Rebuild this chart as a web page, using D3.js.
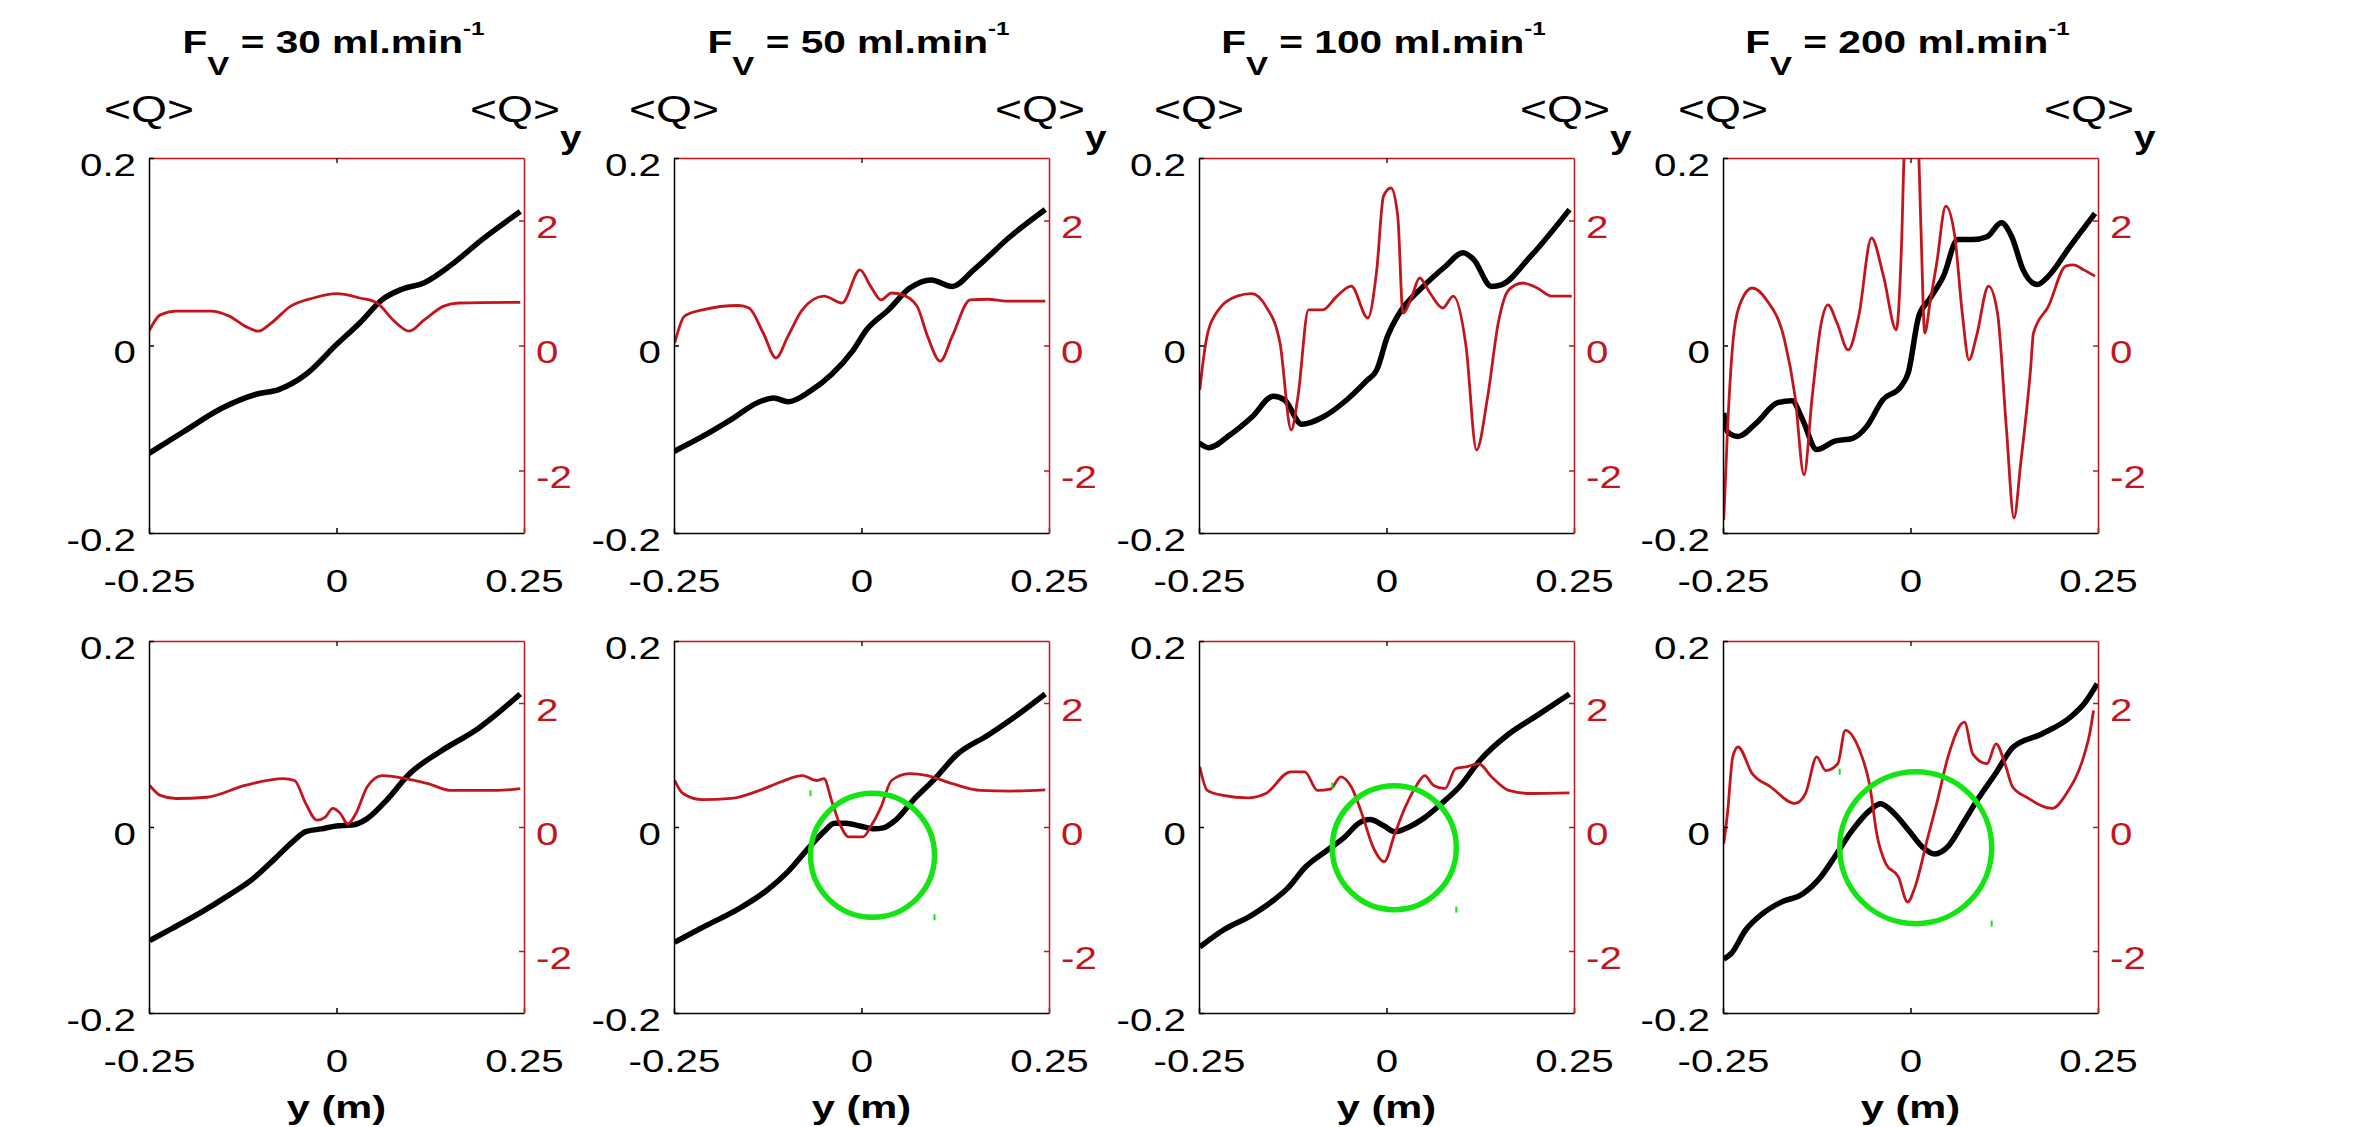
<!DOCTYPE html>
<html>
<head>
<meta charset="utf-8">
<script src="https://cdn.jsdelivr.net/npm/d3@7"></script>
<style>
  body { margin: 0; background: #fff; }
  svg text { font-family: "Liberation Sans", Arial, Helvetica, sans-serif; white-space: pre; }
</style>
</head>
<body>
<div id="container"></div>
<script>
// ---- data: [y (m), value] ----
const flowRates = [30, 50, 100, 200];
const xTicks = [-0.25, 0, 0.25];
const qTicks = [-0.2, 0, 0.2];
const qyTicks = [-2, 0, 2];

// row 1, <Q> (black) and <Q>_y (red)
const q30a = [[-0.25,-0.115],[-0.204,-0.092],[-0.153,-0.067],[-0.107,-0.052],[-0.077,-0.047],[-0.041,-0.031],[0,0.001],[0.031,0.024],[0.061,0.049],[0.087,0.06],[0.117,0.067],[0.153,0.086],[0.194,0.113],[0.245,0.143]];
const qy30a = [[-0.25,0.23],[-0.235,0.49],[-0.214,0.55],[-0.168,0.55],[-0.143,0.47],[-0.122,0.31],[-0.104,0.23],[-0.087,0.36],[-0.061,0.63],[-0.031,0.76],[0,0.83],[0.031,0.76],[0.054,0.68],[0.077,0.39],[0.097,0.23],[0.117,0.41],[0.143,0.63],[0.163,0.68],[0.245,0.69]];
const q50a = [[-0.25,-0.113],[-0.212,-0.097],[-0.174,-0.079],[-0.136,-0.06],[-0.117,-0.056],[-0.098,-0.06],[-0.069,-0.049],[-0.04,-0.031],[-0.012,-0.006],[0.007,0.017],[0.036,0.038],[0.064,0.061],[0.093,0.07],[0.121,0.063],[0.15,0.081],[0.198,0.116],[0.245,0.145]];
const qy50a = [[-0.249,0.04],[-0.236,0.47],[-0.212,0.57],[-0.164,0.64],[-0.15,0.6],[-0.131,0.2],[-0.114,-0.2],[-0.098,0.15],[-0.079,0.57],[-0.05,0.79],[-0.026,0.68],[-0.002,1.21],[0.012,0.95],[0.026,0.73],[0.04,0.84],[0.055,0.81],[0.074,0.63],[0.088,0.15],[0.105,-0.25],[0.121,0.15],[0.145,0.73],[0.169,0.74],[0.193,0.71],[0.245,0.71]];
const q100a = [[-0.25,-0.104],[-0.237,-0.109],[-0.208,-0.095],[-0.179,-0.076],[-0.151,-0.054],[-0.136,-0.058],[-0.113,-0.084],[-0.084,-0.076],[-0.056,-0.06],[-0.027,-0.038],[-0.013,-0.026],[0.001,0.009],[0.016,0.033],[0.049,0.063],[0.078,0.084],[0.102,0.099],[0.116,0.092],[0.14,0.063],[0.154,0.065],[0.192,0.095],[0.244,0.145]];
const qy100a = [[-0.249,-0.71],[-0.241,0.04],[-0.227,0.52],[-0.199,0.79],[-0.18,0.83],[-0.161,0.63],[-0.142,0.04],[-0.127,-1.35],[-0.118,-0.81],[-0.104,0.57],[-0.085,0.57],[-0.066,0.79],[-0.047,0.95],[-0.025,0.44],[-0.013,1.21],[-0.004,2.39],[0.006,2.52],[0.015,2.07],[0.022,0.52],[0.034,0.79],[0.044,1.08],[0.058,0.84],[0.075,0.6],[0.089,0.79],[0.106,-0.01],[0.12,-1.67],[0.135,-0.81],[0.149,0.36],[0.163,0.89],[0.182,1.0],[0.201,0.92],[0.22,0.79],[0.247,0.79]];
const q200a = [[-0.249,-0.072],[-0.244,-0.092],[-0.23,-0.097],[-0.206,-0.083],[-0.177,-0.061],[-0.158,-0.059],[-0.144,-0.079],[-0.125,-0.111],[-0.101,-0.102],[-0.077,-0.099],[-0.058,-0.086],[-0.037,-0.058],[-0.013,-0.044],[-0.003,-0.029],[0.011,0.031],[0.025,0.049],[0.044,0.074],[0.063,0.113],[0.083,0.113],[0.102,0.116],[0.121,0.131],[0.135,0.116],[0.15,0.081],[0.169,0.065],[0.184,0.074],[0.213,0.106],[0.246,0.141]];
const qy200a = [[-0.249,-2.79],[-0.244,-1.35],[-0.235,0.25],[-0.225,0.73],[-0.211,0.92],[-0.192,0.73],[-0.168,0.09],[-0.154,-0.81],[-0.142,-2.07],[-0.131,-0.81],[-0.119,0.36],[-0.11,0.65],[-0.098,0.36],[-0.083,-0.07],[-0.069,0.47],[-0.052,1.72],[-0.036,1.11],[-0.019,0.25],[-0.012,1.59],[-0.008,3.2],[0.002,4.2],[0.0105,3.2],[0.014,1.85],[0.019,0.2],[0.026,0.68],[0.035,1.32],[0.047,2.23],[0.059,1.75],[0.069,0.52],[0.078,-0.23],[0.088,0.15],[0.104,0.95],[0.116,0.52],[0.128,-1.35],[0.138,-2.76],[0.147,-1.88],[0.16,-0.39],[0.164,0.2],[0.184,0.63],[0.207,1.27],[0.217,1.29],[0.231,1.21],[0.246,1.11]];

// row 2
const q30b = [[-0.249,-0.122],[-0.219,-0.109],[-0.179,-0.091],[-0.143,-0.073],[-0.112,-0.056],[-0.082,-0.034],[-0.056,-0.014],[-0.041,-0.005],[-0.02,-0.002],[0,0.001],[0.02,0.002],[0.041,0.009],[0.067,0.029],[0.097,0.057],[0.138,0.081],[0.189,0.106],[0.245,0.143]];
const qy30b = [[-0.249,0.67],[-0.235,0.51],[-0.214,0.46],[-0.173,0.48],[-0.122,0.67],[-0.071,0.78],[-0.056,0.75],[-0.041,0.38],[-0.026,0.11],[-0.015,0.16],[-0.005,0.3],[0.005,0.22],[0.015,0.05],[0.026,0.22],[0.041,0.65],[0.061,0.83],[0.092,0.78],[0.122,0.7],[0.153,0.59],[0.214,0.59],[0.245,0.62]];
const q50b = [[-0.249,-0.124],[-0.212,-0.108],[-0.164,-0.088],[-0.126,-0.068],[-0.098,-0.048],[-0.069,-0.021],[-0.05,-0.005],[-0.036,0.004],[-0.021,0.004],[-0.002,0.001],[0.017,-0.002],[0.029,-0.001],[0.045,0.007],[0.069,0.029],[0.098,0.052],[0.126,0.077],[0.169,0.099],[0.207,0.12],[0.245,0.143]];
const qy50b = [[-0.249,0.75],[-0.238,0.54],[-0.212,0.44],[-0.174,0.46],[-0.136,0.59],[-0.107,0.73],[-0.079,0.83],[-0.06,0.75],[-0.05,0.78],[-0.04,0.43],[-0.029,0.05],[-0.017,-0.16],[0.002,-0.16],[0.012,0],[0.026,0.32],[0.04,0.75],[0.064,0.86],[0.088,0.83],[0.121,0.7],[0.159,0.59],[0.198,0.58],[0.245,0.6]];
const q100b = [[-0.249,-0.129],[-0.218,-0.111],[-0.18,-0.095],[-0.151,-0.079],[-0.132,-0.066],[-0.108,-0.043],[-0.079,-0.025],[-0.056,-0.011],[-0.037,0.004],[-0.022,0.008],[-0.003,0.001],[0.011,-0.005],[0.03,0],[0.049,0.009],[0.073,0.025],[0.097,0.043],[0.125,0.072],[0.163,0.1],[0.201,0.12],[0.244,0.143]];
const qy100b = [[-0.249,0.97],[-0.239,0.59],[-0.218,0.51],[-0.185,0.47],[-0.161,0.54],[-0.128,0.89],[-0.109,0.89],[-0.092,0.59],[-0.075,0.61],[-0.061,0.81],[-0.047,0.65],[-0.033,0.22],[-0.018,-0.32],[-0.003,-0.56],[0.011,-0.11],[0.025,0.32],[0.04,0.67],[0.051,0.83],[0.063,0.67],[0.078,0.62],[0.092,0.94],[0.106,0.97],[0.123,1.02],[0.14,0.81],[0.163,0.59],[0.192,0.54],[0.244,0.55]];
const q200b = [[-0.249,-0.142],[-0.239,-0.136],[-0.22,-0.111],[-0.197,-0.093],[-0.173,-0.081],[-0.144,-0.072],[-0.12,-0.054],[-0.101,-0.032],[-0.078,-0.004],[-0.054,0.018],[-0.04,0.025],[-0.021,0.014],[-0.002,-0.004],[0.018,-0.023],[0.032,-0.029],[0.051,-0.02],[0.07,0.004],[0.089,0.029],[0.113,0.057],[0.137,0.086],[0.175,0.1],[0.213,0.118],[0.232,0.133],[0.249,0.154]];
const qy200b = [[-0.249,-0.27],[-0.244,0.22],[-0.237,1.13],[-0.23,1.29],[-0.211,0.86],[-0.187,0.65],[-0.154,0.38],[-0.14,0.54],[-0.125,1.13],[-0.113,0.91],[-0.097,1.02],[-0.087,1.56],[-0.068,1.24],[-0.054,0.65],[-0.045,-0.11],[-0.033,-0.59],[-0.016,-0.81],[-0.004,-1.21],[0.006,-0.97],[0.022,-0.22],[0.036,0.43],[0.05,1.13],[0.072,1.69],[0.083,1.18],[0.102,1.02],[0.114,1.34],[0.126,1.02],[0.136,0.65],[0.155,0.48],[0.189,0.3],[0.208,0.54],[0.232,1.18],[0.239,1.51],[0.244,1.88]];

// green circles on row 2 (column, centre in data units)
const highlights = [[1, 0.0147, -0.0304], [2, 0.0104, -0.0222], [3, 0.0069, -0.0222]];

// ---- layout ----
const WIDTH = 2357;
const HEIGHT = 1127;
const PANEL_X = [149, 674, 1199, 1723];
const PANEL_W = 375;
const ROW_Y = [158, 641];
const ROW_H = [375, 372];
const CIRCLE_R = [62, 62, 76];
const TICK_FONT = 31;
const SX = 1.3; // the figure's text is stretched horizontally
const RED = "#c3161c";
const GREEN = "#14e414";

const rows = [
  [q30a, q50a, q100a, q200a],
  [q30b, q50b, q100b, q200b],
];
const rowsY = [
  [qy30a, qy50a, qy100a, qy200a],
  [qy30b, qy50b, qy100b, qy200b],
];

const svg = d3
  .select("div#container")
  .append("svg")
  .attr("width", WIDTH)
  .attr("height", HEIGHT);

const scales = [];
const plain = (d) => String(d);

rows.forEach((row, r) => {
  row.forEach((qData, c) => {
    const x0 = PANEL_X[c];
    const y0 = ROW_Y[r];
    const h = ROW_H[r];

    const xScale = d3.scaleLinear().domain([-0.25, 0.25]).range([x0, x0 + PANEL_W]);
    const qScale = d3.scaleLinear().domain([-0.2, 0.2]).range([y0 + h, y0]);
    const qyScale = d3.scaleLinear().domain([-3, 3]).range([y0 + h, y0]);
    scales.push({ r, c, xScale, qScale, qyScale });

    const clipId = `clip-${r}-${c}`;
    svg.append("clipPath").attr("id", clipId)
      .append("rect").attr("x", x0).attr("y", y0).attr("width", PANEL_W).attr("height", h);

    const g = svg.append("g").attr("clip-path", `url(#${clipId})`);

    const qLine = d3.line()
      .x((d) => xScale(d[0]))
      .y((d) => qScale(d[1]))
      .curve(d3.curveMonotoneX);
    const qyLine = d3.line()
      .x((d) => xScale(d[0]))
      .y((d) => qyScale(d[1]))
      .curve(d3.curveMonotoneX);

    g.append("path")
      .attr("d", qLine(qData))
      .attr("fill", "none")
      .attr("stroke", "#000")
      .attr("stroke-width", 5.5)
      .attr("stroke-linejoin", "round");

    g.append("path")
      .attr("d", qyLine(rowsY[r][c]))
      .attr("fill", "none")
      .attr("stroke", RED)
      .attr("stroke-width", 2.8)
      .attr("stroke-linejoin", "round");

    // top edge (belongs to the red axes)
    const top = svg.append("g")
      .attr("transform", `translate(0, ${y0})`)
      .call(d3.axisTop(xScale).tickValues([0]).tickSizeInner(-5).tickSizeOuter(0).tickFormat(""));
    top.select(".domain").attr("stroke", RED).attr("stroke-width", 1.5);
    top.selectAll(".tick line").attr("stroke", "#222").attr("stroke-width", 1.5);

    // bottom x axis
    const bottom = svg.append("g")
      .attr("transform", `translate(0, ${y0 + h})`)
      .call(d3.axisBottom(xScale).tickValues(xTicks).tickSizeInner(-5).tickSizeOuter(0).tickPadding(37).tickFormat(plain));
    bottom.attr("font-size", TICK_FONT).attr("font-family", null);
    bottom.select(".domain").attr("stroke", "#000").attr("stroke-width", 1.5);
    bottom.selectAll(".tick line").attr("stroke-width", 1.5);
    bottom.selectAll(".tick text").attr("fill", "#000").attr("transform", `scale(${SX},1)`);

    // left <Q> axis
    const left = svg.append("g")
      .attr("transform", `translate(${x0}, 0)`)
      .call(d3.axisLeft(qScale).tickValues(qTicks).tickSizeInner(-5).tickSizeOuter(0).tickPadding(13 / SX).tickFormat(plain));
    left.attr("font-size", TICK_FONT).attr("font-family", null);
    left.select(".domain").attr("stroke", "#000").attr("stroke-width", 1.5);
    left.selectAll(".tick line").attr("stroke-width", 1.5);
    left.selectAll(".tick text").attr("fill", "#000").attr("dy", "0.55em").attr("transform", `scale(${SX},1)`);

    // right <Q>_y axis
    const right = svg.append("g")
      .attr("transform", `translate(${x0 + PANEL_W}, 0)`)
      .call(d3.axisRight(qyScale).tickValues(qyTicks).tickSizeInner(-5).tickSizeOuter(0).tickPadding(12 / SX).tickFormat(plain));
    right.attr("font-size", TICK_FONT).attr("font-family", null);
    right.select(".domain").attr("stroke", RED).attr("stroke-width", 1.5);
    right.selectAll(".tick line").attr("stroke", RED).attr("stroke-width", 1.5);
    right.selectAll(".tick text").attr("fill", RED).attr("dy", "0.55em").attr("transform", `scale(${SX},1)`);
  });
});

// column titles and axis names
flowRates.forEach((f, c) => {
  const cx = PANEL_X[c] + PANEL_W / 2 - 3;
  const title = svg.append("text")
    .attr("transform", `translate(${cx}, 53) scale(1.27,1)`)
    .attr("text-anchor", "middle")
    .attr("font-weight", "bold")
    .attr("font-size", 32);
  title.append("tspan").text("F");
  title.append("tspan").attr("font-size", 26).attr("dy", 22).text("V");
  title.append("tspan").attr("dy", -22).text(` = ${f} ml.min`);
  title.append("tspan").attr("font-size", 19).attr("dy", -18).text("-1");

  svg.append("text")
    .attr("transform", `translate(${PANEL_X[c]}, 122) scale(1.25,1)`)
    .attr("text-anchor", "middle")
    .attr("font-size", 37)
    .text("<Q>");

  const qy = svg.append("text")
    .attr("transform", `translate(${PANEL_X[c] + PANEL_W - 54}, 122) scale(1.25,1)`)
    .attr("text-anchor", "start")
    .attr("font-size", 37);
  qy.append("tspan").text("<Q>");
  qy.append("tspan").attr("dy", 26).attr("font-weight", "bold").attr("font-size", 31).text("y");

  svg.append("text")
    .attr("transform", `translate(${PANEL_X[c] + PANEL_W / 2}, 1118) scale(1.3,1)`)
    .attr("text-anchor", "middle")
    .attr("font-weight", "bold")
    .attr("font-size", 32)
    .text("y (m)");
});

// green highlight circles
highlights.forEach((hl, i) => {
  const s = scales.find((d) => d.r === 1 && d.c === hl[0]);
  const cx = s.xScale(hl[1]);
  const cy = s.qScale(hl[2]);
  const rad = CIRCLE_R[i];
  svg.append("circle")
    .attr("cx", cx)
    .attr("cy", cy)
    .attr("r", rad)
    .attr("fill", "none")
    .attr("stroke", GREEN)
    .attr("stroke-width", 5.5);
  // stray corner marks left in the picture
  [[-1, -1], [1, 1]].forEach(([sx, sy]) => {
    svg.append("rect")
      .attr("x", cx + sx * rad - 1)
      .attr("y", cy + sy * rad - 3)
      .attr("width", 2)
      .attr("height", 6)
      .attr("fill", GREEN);
  });
});
</script>
</body>
</html>
